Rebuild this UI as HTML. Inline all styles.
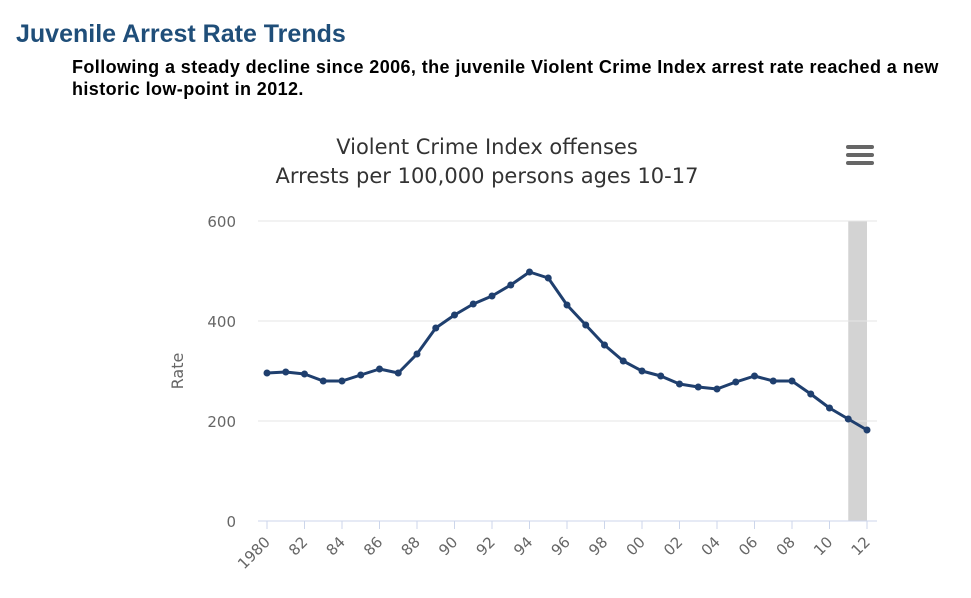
<!DOCTYPE html>
<html><head><meta charset="utf-8"><style>
body{margin:0;width:971px;height:598px;background:#fff;font-family:"Liberation Sans",sans-serif;overflow:hidden}
h1{position:absolute;left:16px;top:20px;margin:0;font-size:25px;color:#1f4e79;font-weight:bold}
p{position:absolute;left:72px;top:56px;margin:0;font-size:18px;letter-spacing:0.4px;font-weight:bold;color:#000;width:880px;line-height:22px}
svg{position:absolute;left:0;top:0}
</style></head><body>
<h1>Juvenile Arrest Rate Trends</h1>
<p>Following a steady decline since 2006, the juvenile Violent Crime Index arrest rate reached a new historic low-point in 2012.</p>
<svg id="c" width="971" height="598"></svg>
<script>
const years=[1980,1981,1982,1983,1984,1985,1986,1987,1988,1989,1990,1991,1992,1993,1994,1995,1996,1997,1998,1999,2000,2001,2002,2003,2004,2005,2006,2007,2008,2009,2010,2011,2012];
const rates=[296,298,294,280,280,292,304,296,334,386,412,434,450,472,498,486,432,392,352,320,300,290,274,268,264,278,290,280,280,254,226,204,182];
const yTicks=[0,200,400,600];
const xTickLabels=["1980","82","84","86","88","90","92","94","96","98","00","02","04","06","08","10","12"];
const highlightRange=[2011,2012];
const NS="http://www.w3.org/2000/svg";
const svg=document.getElementById('c');
const x0=267,x1=867,yb=521,yt=221;
const xs=v=>x0+(v-1980)*(x1-x0)/32;
const ys=v=>yb-(v/600)*(yb-yt);
function mk(t,a,p){const e=document.createElementNS(NS,t);for(const k in a)e.setAttribute(k,a[k]);(p||svg).appendChild(e);return e;}
let t=mk('text',{x:487,y:154,'text-anchor':'middle','font-size':21,fill:'#333','font-family':'DejaVu Sans, sans-serif'});t.textContent='Violent Crime Index offenses';

t=mk('text',{x:487,y:183,'text-anchor':'middle','font-size':21,fill:'#333','font-family':'DejaVu Sans, sans-serif'});t.textContent='Arrests per 100,000 persons ages 10-17';

const menu=mk('g',{});

for(let i=0;i<3;i++)mk('rect',{x:846,y:145+i*8,width:28,height:4,rx:2,fill:'#666'},menu);
const band=mk('rect',{x:xs(highlightRange[0]),y:yt,width:xs(highlightRange[1])-xs(highlightRange[0]),height:yb-yt,fill:'#d3d3d3'});

yTicks.forEach(v=>{
 const l=mk('line',{x1:258,x2:877,y1:ys(v),y2:ys(v),stroke:v==0?'#ccd6eb':'#e6e6e6','stroke-width':1});
 
 const tx=mk('text',{x:236,y:ys(v)+6,'text-anchor':'end','font-size':15,fill:'#666','font-family':'DejaVu Sans, sans-serif'});tx.textContent=v;
 
});
t=mk('text',{x:0,y:0,transform:'translate(183,371) rotate(-90)','text-anchor':'middle','font-size':16,fill:'#666','font-family':'DejaVu Sans, sans-serif'});t.textContent='Rate';

xTickLabels.forEach((lab,i)=>{
 const x=xs(1980+i*2);
 const tk=mk('line',{x1:x,x2:x,y1:yb,y2:yb+8,stroke:'#ccd6eb'});
 
 const tx=mk('text',{x:0,y:0,transform:`translate(${x+4},${yb+22}) rotate(-45)`,'text-anchor':'end','font-size':15,fill:'#666','font-family':'DejaVu Sans, sans-serif'});tx.textContent=lab;
 
});
const line=mk('polyline',{points:years.map((y,i)=>xs(y)+','+ys(rates[i])).join(' '),fill:'none',stroke:'#1f3f6e','stroke-width':3,'stroke-linejoin':'round'});

years.forEach((y,i)=>{
 const c=mk('circle',{cx:xs(y),cy:ys(rates[i]),r:3.5,fill:'#1f3f6e'});
 
});
</script>
</body></html>
